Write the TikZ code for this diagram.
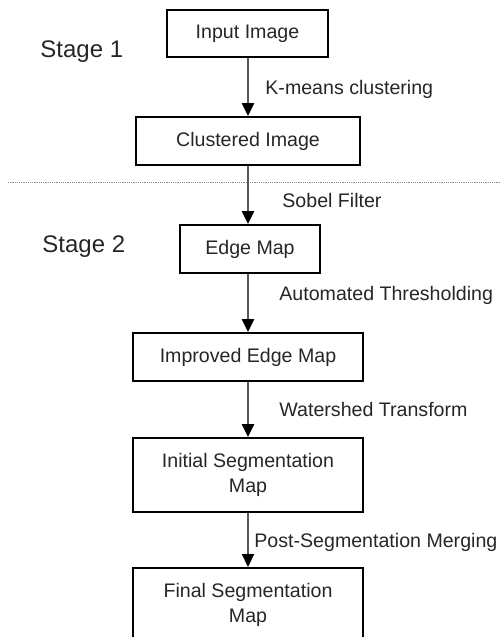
\documentclass[tikz,border=0pt]{standalone}
\usepackage{fontspec}
\setmainfont{Liberation Sans}
\usetikzlibrary{arrows.meta}
\begin{document}
\begin{tikzpicture}[x=0.5pt,y=-0.5pt,
  box/.style={draw=black,line width=0.9pt,inner sep=0pt,align=center,
    font=\fontsize{9.8}{12.5}\selectfont,text=black!85},
  flow/.style={draw=black!65,line width=1.1pt,
    -{Triangle[length=6.5pt,width=6pt,color=black]}},
  lbl/.style={anchor=west,inner sep=0pt,font=\fontsize{9.8}{12}\selectfont,text=black!85},
  stagelbl/.style={anchor=west,inner sep=0pt,font=\fontsize{12}{14}\selectfont,text=black!85}]
\useasboundingbox (0,0) rectangle (500,637);
\clip (0,0) rectangle (500,637);
\node[box,minimum width=80.5pt,minimum height=23.5pt] (in) at (247.5,33.5) {Input Image};
\node[box,minimum width=112pt,minimum height=24pt] (cl) at (248,141) {Clustered Image};
\node[box,minimum width=70pt,minimum height=24pt] (em) at (250,249) {Edge Map};
\node[box,minimum width=115pt,minimum height=24pt] (iem) at (248,357) {Improved Edge Map};
\node[box,minimum width=115pt,minimum height=37pt] (ism) at (248,475) {Initial Segmentation\\Map};
\node[box,minimum width=115pt,minimum height=37pt,anchor=north] (fsm) at (248,567) {Final Segmentation\\Map};
\coordinate (dl) at (8,182);
\coordinate (dr) at (500,182);
\draw[black!45,line width=0.5pt,dash pattern=on 0.6pt off 0.5pt] (dl) -- (dr);
\draw[flow] (in.south -| 248,0) -- (cl.north -| 248,0);
\draw[flow] (cl.south -| 248,0) -- (em.north -| 248,0);
\draw[flow] (em.south -| 248,0) -- (iem.north -| 248,0);
\draw[flow] (iem.south -| 248,0) -- (ism.north -| 248,0);
\draw[flow] (ism.south -| 248,0) -- (fsm.north -| 248,0);
\node[lbl] (l1) at (265,89) {K-means clustering};
\node[lbl] (l2) at (282,200) {Sobel Filter};
\node[lbl] (l3) at (279,295) {Automated Thresholding};
\node[lbl] (l4) at (279,409) {Watershed Transform};
\node[lbl] (l5) at (254,542) {Post-Segmentation Merging};
\node[stagelbl] (s1) at (40,52) {Stage 1};
\node[stagelbl] (s2) at (42,247) {Stage 2};
\end{tikzpicture}
\end{document}
